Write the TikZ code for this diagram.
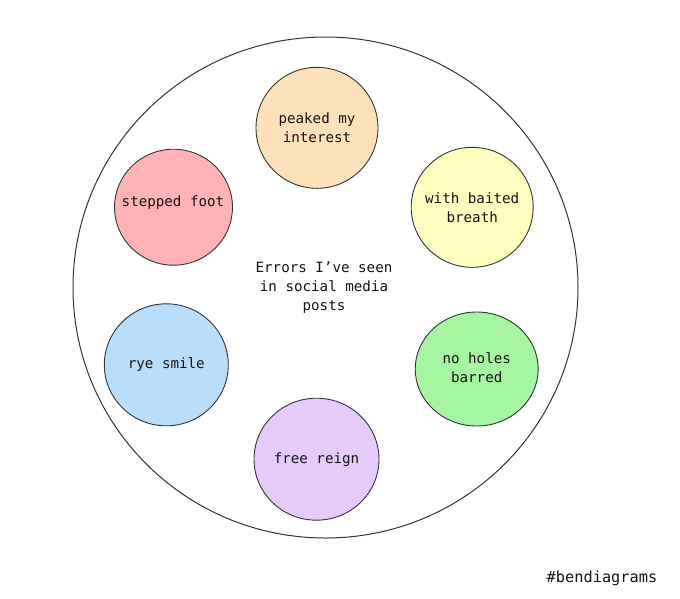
\documentclass[tikz,border=0pt]{standalone}
\usepackage{fontspec}
\setmonofont{DejaVu Sans Mono}
\usetikzlibrary{shapes.geometric}
\definecolor{cpeach}{HTML}{FDE1BA}
\definecolor{cyellow}{HTML}{FFFFC2}
\definecolor{cgreen}{HTML}{A6F5A0}
\definecolor{cpink}{HTML}{FFB3B6}
\definecolor{cblue}{HTML}{B8DEFB}
\definecolor{cpurple}{HTML}{E6CAFA}
\definecolor{cline}{HTML}{333333}
\definecolor{ctext}{HTML}{141414}
\begin{document}
\begin{tikzpicture}[x=1pt,y=-1pt,
  txt/.style={font=\ttfamily\fontsize{14.2}{19}\selectfont, text=ctext, align=center},
  bubble/.style={ellipse, draw=cline, line width=0.9pt, inner sep=0pt},
  outerring/.style={ellipse, draw=cline, line width=1pt, inner sep=0pt}]
\useasboundingbox (0,0) rectangle (680,598);
\node[outerring, minimum width=505pt, minimum height=501pt] (outer) at (325.5,287.5) {};
\node[bubble, fill=cpeach, minimum width=122pt, minimum height=121pt] (peaked) at (317,127.8) {};
\node[bubble, fill=cyellow, minimum width=122pt, minimum height=120pt] (baited) at (472.2,207.3) {};
\node[bubble, fill=cpink, minimum width=118pt, minimum height=116pt] (stepped) at (173.5,207.2) {};
\node[bubble, fill=cblue, minimum width=124pt, minimum height=122pt] (rye) at (166.3,364.8) {};
\node[bubble, fill=cgreen, minimum width=123pt, minimum height=114pt] (holes) at (476.7,369) {};
\node[bubble, fill=cpurple, minimum width=125pt, minimum height=122pt] (reign) at (316.5,459.2) {};
\node[txt] (peakedtext) at (peaked.center) {peaked my\\interest};
\node[txt] (baitedtext) at (baited.center) {with baited\\breath};
\node[txt] (steppedtext) at (173,202.7) {stepped foot};
\node[txt] (ryetext) at (rye.center) {rye smile};
\node[txt] (holestext) at (476.7,367.5) {no holes\\barred};
\node[txt] (reigntext) at (reign.center) {free reign};
\node[txt] (center) at (324,287.5) {Errors I’ve seen\\in social media\\posts};
\node[txt, font=\ttfamily\fontsize{15.3}{19}\selectfont] (tag) at (602,578) {\#bendiagrams};
\end{tikzpicture}
\end{document}
